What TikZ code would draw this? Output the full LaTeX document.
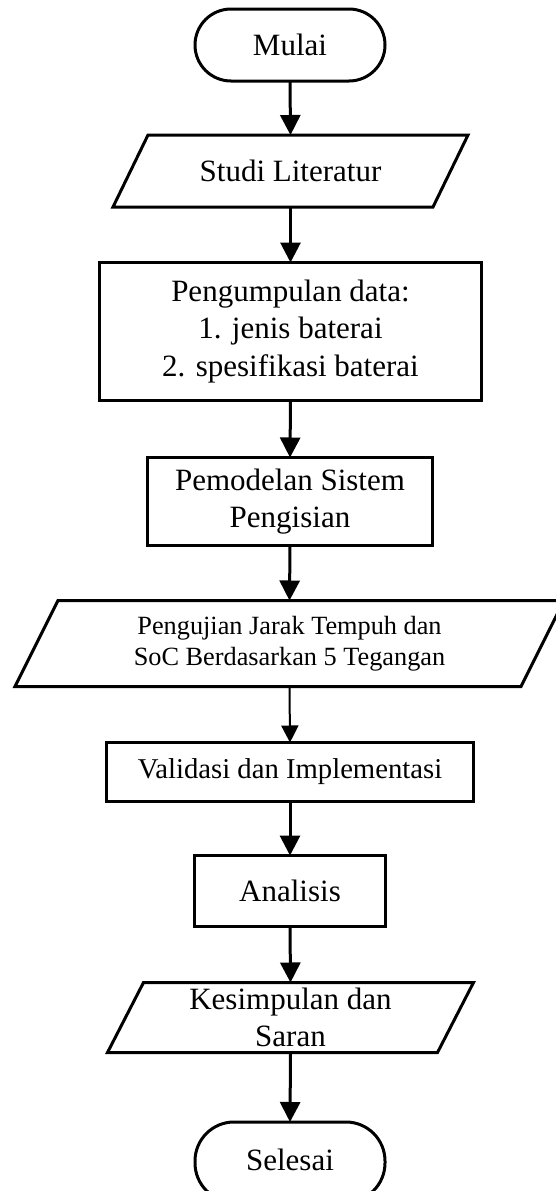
\documentclass[tikz,border=0pt]{standalone}
\usepackage{fontspec}
\setmainfont{Liberation Serif}
\usetikzlibrary{arrows.meta}
\begin{document}
\begin{tikzpicture}[x=1pt,y=-1pt,
  base/.style={outer sep=0pt, inner sep=0pt, align=center, font=\fontsize{31pt}{37.5pt}\selectfont},
  boxnode/.style={base, draw, line width=3pt},
  term/.style={boxnode, rounded corners=36pt},
  paranode/.style={base},
  paraline/.style={line width=3pt, line join=miter},
  arr/.style={line width=3pt, -{Triangle[length=20pt,width=20pt]}},
  thinarr/.style={line width=2pt, -{Triangle[length=17pt,width=17pt]}}]
\useasboundingbox (0,0) rectangle (555,1191);
\fill[white] (0,0) rectangle (555,1191);

\node[term, minimum width=190pt, minimum height=72pt] (mulai) at (290,45) {Mulai};
\node[paranode, minimum width=320pt, minimum height=72pt] (studi) at (290.5,171) {Studi Literatur};
\node[boxnode, minimum width=382pt, minimum height=138pt] (kumpul) at (290.5,331.5) {Pengumpulan data:\\1. jenis baterai\\2. spesifikasi baterai};
\node[boxnode, minimum width=285pt, minimum height=88pt] (model) at (290,501.5) {Pemodelan Sistem\\Pengisian};
\node[paranode, minimum width=506pt, minimum height=86pt, font=\fontsize{26.3pt}{30.5pt}\selectfont] (uji) at (289.5,643.5) {Pengujian Jarak Tempuh dan\\SoC Berdasarkan 5 Tegangan};
\node[boxnode, minimum width=367pt, minimum height=59pt, font=\fontsize{28.7pt}{34pt}\selectfont] (valid) at (290,772) {Validasi dan Implementasi};
\node[boxnode, minimum width=191pt, minimum height=71pt] (analisis) at (290,891) {Analisis};
\node[paranode, minimum width=330pt, minimum height=70pt] (simpul) at (290.5,1017.5) {Kesimpulan dan\\Saran};
\node[term, rounded corners=39pt, minimum width=190pt, minimum height=80pt] (selesai) at (290,1162) {\raisebox{5pt}{Selesai}};

% parallelograms
\draw[paraline] ([xshift=17.5pt]studi.north west) -- ([xshift=17.5pt]studi.north east) -- ([xshift=-17.5pt]studi.south east) -- ([xshift=-17.5pt]studi.south west) -- cycle;
\draw[paraline] ([xshift=21.5pt]uji.north west) -- ([xshift=21.5pt]uji.north east) -- ([xshift=-21.5pt]uji.south east) -- ([xshift=-21.5pt]uji.south west) -- cycle;
\draw[paraline] ([xshift=18pt]simpul.north west) -- ([xshift=18pt]simpul.north east) -- ([xshift=-18pt]simpul.south east) -- ([xshift=-18pt]simpul.south west) -- cycle;

% connectors
\draw[arr] (mulai.south) -- (studi.north);
\draw[arr] (studi.south) -- (kumpul.north);
\draw[arr] (kumpul.south) -- (model.north);
\draw[arr] (model.south) -- (uji.north);
\draw[thinarr] (uji.south) -- (valid.north);
\draw[arr] (valid.south) -- (analisis.north);
\draw[arr] (analisis.south) -- (simpul.north);
\draw[arr] (simpul.south) -- (selesai.north);
\end{tikzpicture}
\end{document}
